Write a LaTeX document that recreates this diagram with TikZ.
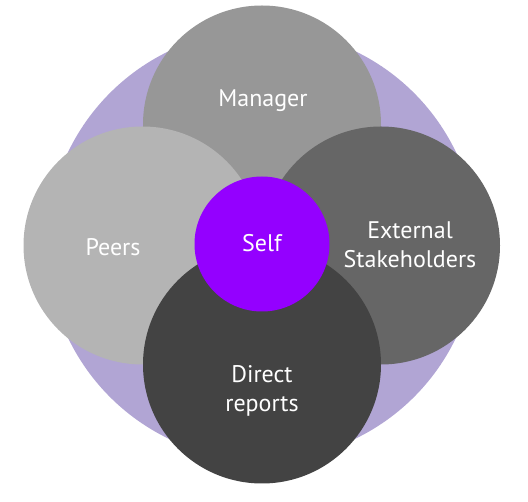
\documentclass[tikz,border=0pt]{standalone}
\usepackage{fontspec}
\setmainfont{PT Sans}
\definecolor{lav}{HTML}{B1A5D4}
\definecolor{mgr}{HTML}{979797}
\definecolor{peer}{HTML}{B4B4B4}
\definecolor{ext}{HTML}{666666}
\definecolor{dir}{HTML}{434343}
\definecolor{selfc}{HTML}{9400FF}
\begin{document}
\begin{tikzpicture}[x=1pt,y=-1pt,
  disc/.style={circle,inner sep=0pt,minimum size=238pt},
  lbl/.style={text=white,font=\fontsize{24}{29}\selectfont,align=center}]
\useasboundingbox (0,0) rectangle (528,502);
\node[circle,fill=lav,inner sep=0pt,minimum size=430pt] (bg) at (262,245) {};
\node[disc,fill=mgr] (manager) at (262,124.5) {};
\node[disc,fill=peer] (peers) at (142.5,245.5) {};
\node[disc,fill=ext] (external) at (381,245.5) {};
\node[disc,fill=dir] (direct) at (262,364.5) {};
\node[circle,fill=selfc,inner sep=0pt,minimum size=135pt] (self) at (262,244) {};
\node[lbl] (tmanager) at (263,101) {Manager};
\node[lbl] (tpeers) at (113,247) {Peers};
\node[lbl] (text) at (410,245) {External\\Stakeholders};
\node[lbl] (tdirect) at (262,391) {Direct\\reports};
\node[lbl] (tself) at (262,243) {Self};
\end{tikzpicture}
\end{document}
